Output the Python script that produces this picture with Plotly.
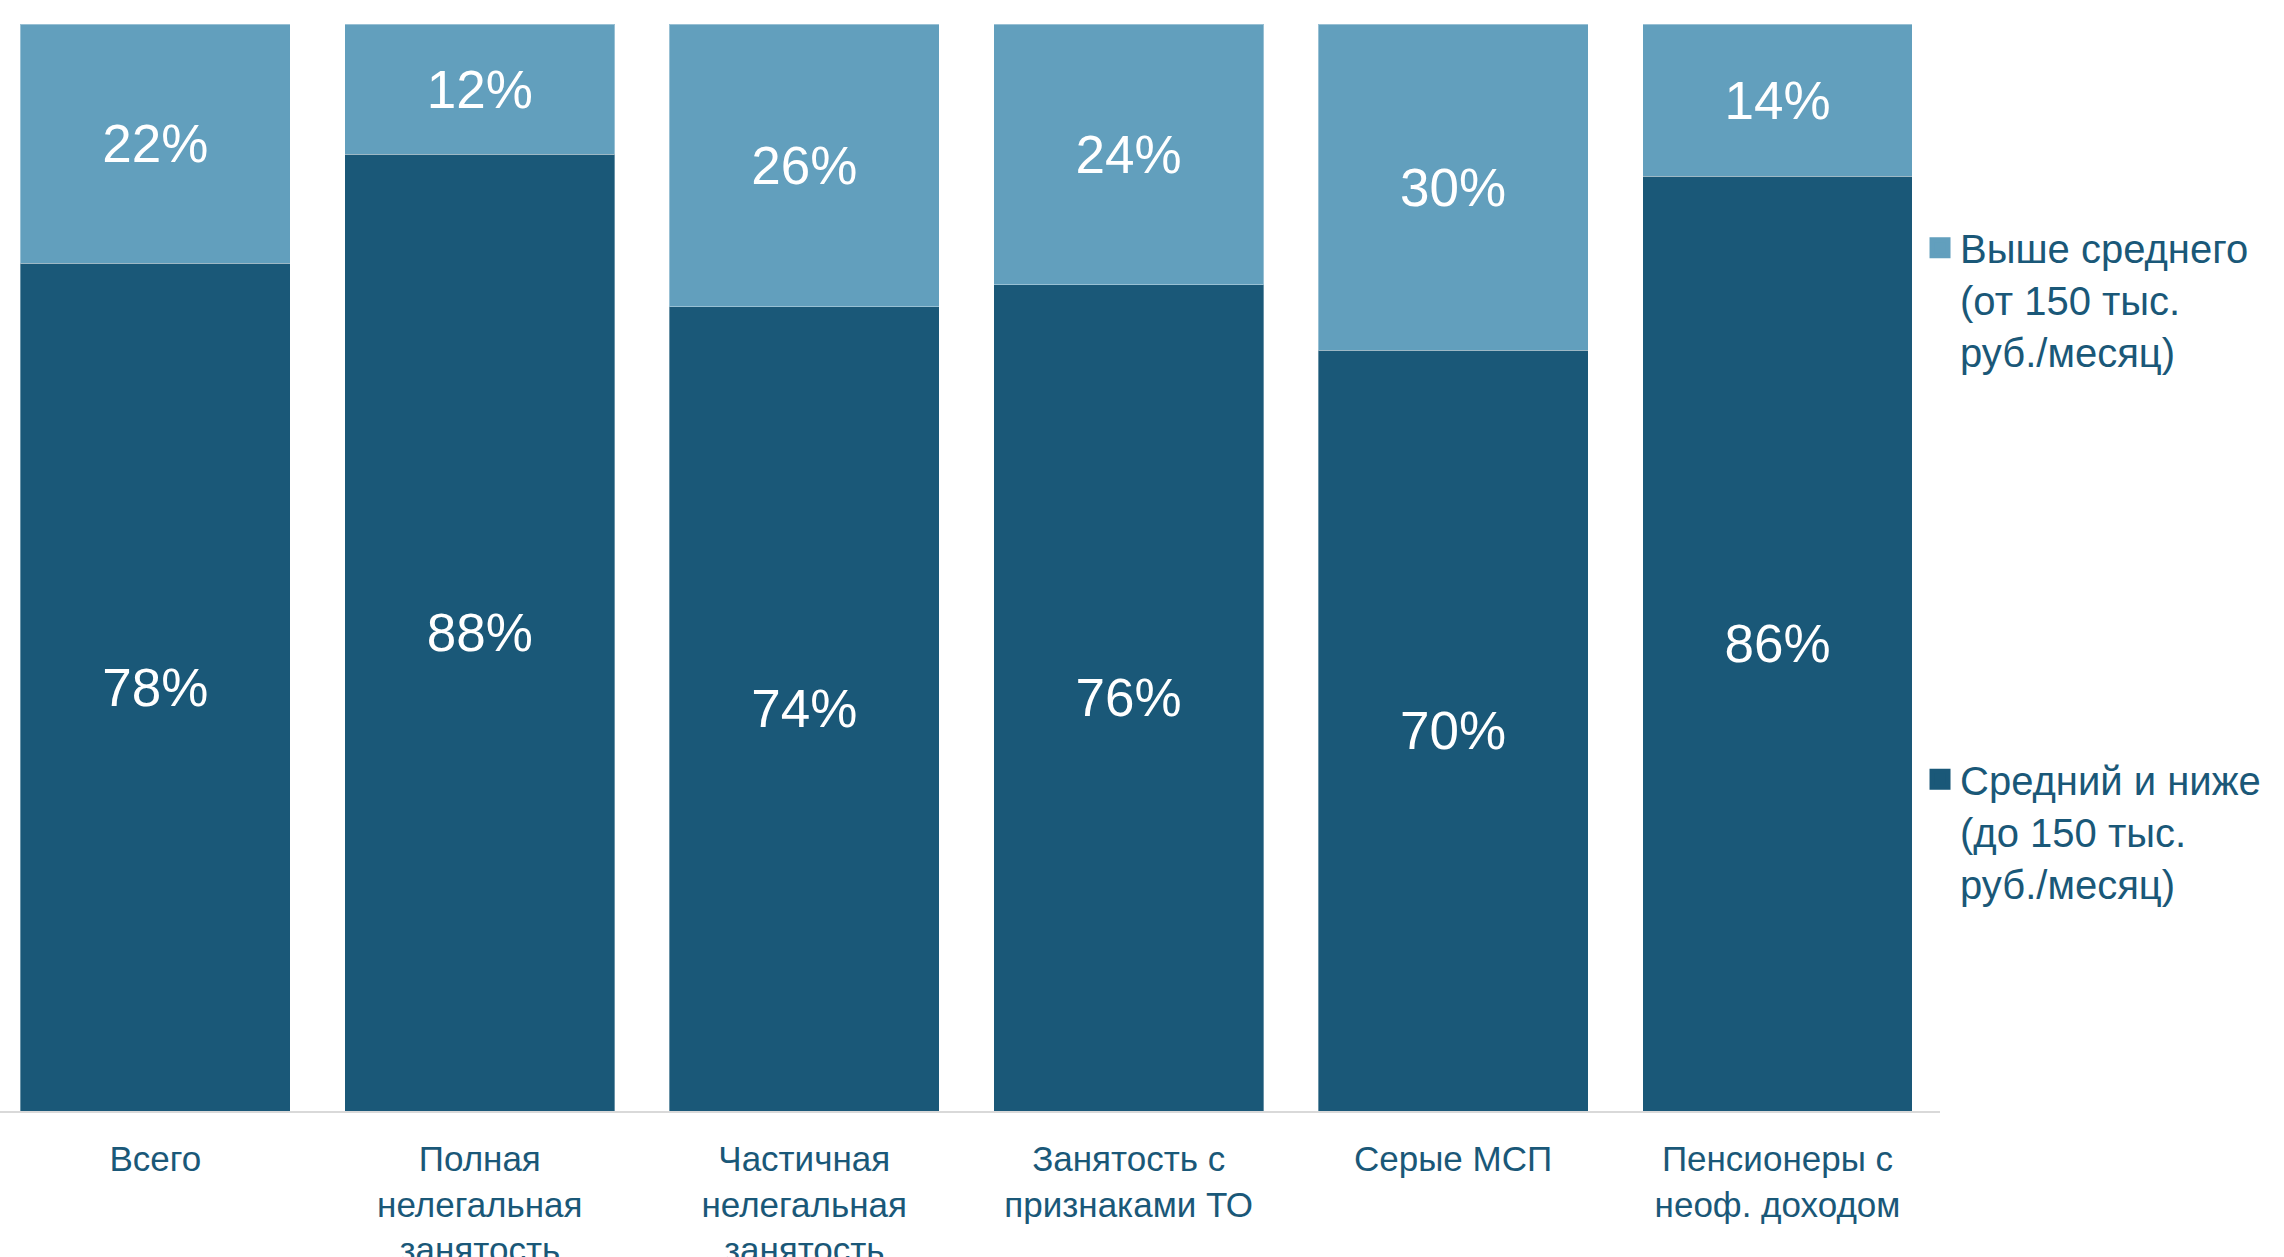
import plotly.graph_objects as go

categories = [
    "Всего",
    "Полная<br>нелегальная<br>занятость",
    "Частичная<br>нелегальная<br>занятость",
    "Занятость с<br>признаками ТО",
    "Серые МСП",
    "Пенсионеры с<br>неоф. доходом",
]
low_values = [78, 88, 74, 76, 70, 86]
high_values = [22, 12, 26, 24, 30, 14]

low_name = "Средний и ниже<br>(до 150 тыс.<br>руб./месяц)"
high_name = "Выше среднего<br>(от 150 тыс.<br>руб./месяц)"

DARK = "#1A5878"
LIGHT = "#629FBD"
FONT = "Liberation Sans, Arial, sans-serif"

fig = go.Figure()
fig.add_trace(go.Bar(
    x=categories, y=low_values, name=low_name, marker_color=DARK,
    marker_line=dict(color="rgba(255,255,255,0.35)", width=1),
    text=[f"{v}%" for v in low_values], textposition="inside",
    insidetextanchor="middle", textangle=0, constraintext="none",
    textfont=dict(color="white", size=53, family=FONT),
    showlegend=False, hoverinfo="skip",
))
fig.add_trace(go.Bar(
    x=categories, y=high_values, name=high_name, marker_color=LIGHT,
    marker_line=dict(color="rgba(255,255,255,0.35)", width=1),
    text=[f"{v}%" for v in high_values], textposition="inside",
    insidetextanchor="middle", textangle=0, constraintext="none",
    textfont=dict(color="white", size=53, family=FONT),
    showlegend=False, hoverinfo="skip",
))
# legend entries
fig.add_trace(go.Scatter(
    x=[None], y=[None], mode="markers", name=high_name,
    marker=dict(symbol="square", size=16, color=LIGHT, line=dict(color=LIGHT, width=5)),
    legend="legend",
))
fig.add_trace(go.Scatter(
    x=[None], y=[None], mode="markers", name=low_name,
    marker=dict(symbol="square", size=16, color=DARK, line=dict(color=DARK, width=5)),
    legend="legend2",
))

legend_common = dict(
    xanchor="left", yanchor="top", valign="top",
    font=dict(family=FONT, size=40, color=DARK),
    bgcolor="rgba(0,0,0,0)", itemclick=False, itemdoubleclick=False,
)

fig.update_layout(
    width=2284, height=1257,
    margin=dict(l=0, r=344, t=24, b=146, autoexpand=False),
    barmode="stack", bargap=0.168,
    plot_bgcolor="white", paper_bgcolor="white",
    font=dict(family=FONT, color=DARK),
    xaxis=dict(
        range=[-0.479, 5.501], showline=True, linecolor="#D9D9D9", linewidth=2,
        ticks="outside", ticklen=16, tickcolor="rgba(0,0,0,0)",
        tickfont=dict(family=FONT, size=35, color=DARK), showgrid=False,
        fixedrange=True, automargin=False,
    ),
    yaxis=dict(range=[0, 100], visible=False, fixedrange=True, automargin=False),
    legend=dict(x=0.9897, y=0.824, **legend_common),
    legend2=dict(x=0.9897, y=0.335, **legend_common),
    showlegend=True,
)

fig.write_html(
    "out.html",
    config={"displayModeBar": False},
    post_script="document.body.style.margin='0';document.body.style.overflow='hidden';",
)
